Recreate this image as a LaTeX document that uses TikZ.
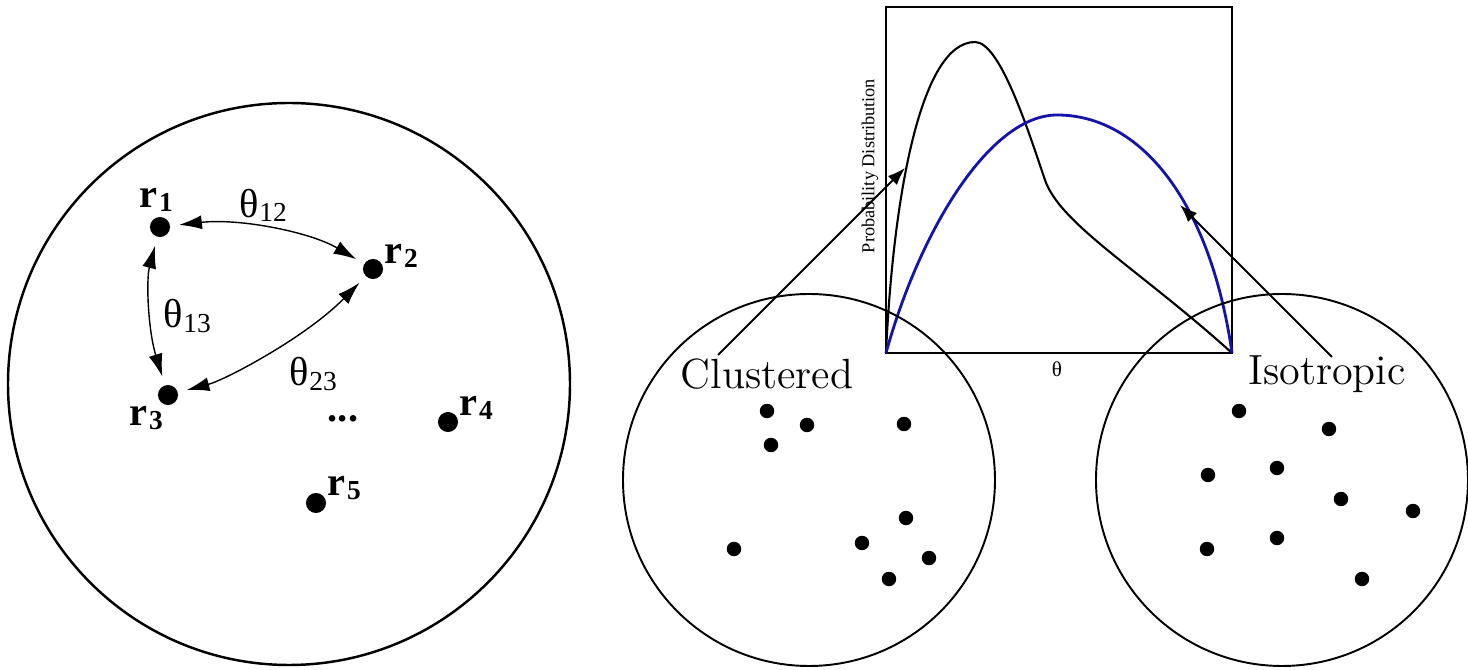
\documentclass[tikz,border=0pt]{standalone}
\usepackage{fontspec}
\newfontfamily\tms{Liberation Serif}
\usetikzlibrary{arrows.meta}
\definecolor{pblue}{RGB}{20,20,170}
\newcommand{\myr}[1]{r\kern0.6pt\raisebox{-1.3pt}{\fontsize{7.8}{7.8}\selectfont #1}}
\newcommand{\myth}[1]{θ\kern0.3pt\raisebox{-1.2pt}{\fontsize{7.8}{7.8}\selectfont #1}}
\begin{document}
\begin{tikzpicture}[x=0.01cm,y=-0.01cm,
  bigdot/.style={circle,fill=black,inner sep=0pt,minimum size=5.7pt,outer sep=2.6pt},
  smalldot/.style={circle,fill=black,inner sep=0pt,minimum size=4.1pt},
  rlab/.style={font=\tms\fontsize{11.5}{11.5}\selectfont\bfseries,inner sep=0pt},
  thlab/.style={font=\tms\fontsize{11.5}{11.5}\selectfont,inner sep=0pt},
  dbl/.style={{Latex[length=6.5pt,width=4pt]}-{Latex[length=6.5pt,width=4pt]},line width=0.4pt},
  arr/.style={-{Latex[length=5pt,width=3.6pt]},line width=0.55pt},
  cname/.style={font=\fontsize{12}{12}\selectfont,inner sep=0pt}]
\useasboundingbox (0,0) rectangle (1468,670);
% left big circle
\draw[line width=0.7pt] (289,384) circle[radius=281];
\node[bigdot] (r1) at (160,227) {};
\node[bigdot] (r2) at (373,269) {};
\node[bigdot] (r3) at (168,395) {};
\node[bigdot] (r4) at (448,422) {};
\node[bigdot] (r5) at (316,503) {};
\node[rlab] (l1) at (156,200) {\myr{1}};
\node[rlab] (l2) at (401,256) {\myr{2}};
\node[rlab] (l3) at (146,418) {\myr{3}};
\node[rlab] (l4) at (476,408) {\myr{4}};
\node[rlab] (l5) at (344,488) {\myr{5}};
\node[thlab] (t12) at (263,205) {\myth{12}};
\node[thlab] (t13) at (187,316) {\myth{13}};
\node[thlab] (t23) at (313,374) {\myth{23}};
\node[rlab,anchor=base,text height=2pt,text depth=0pt] (dots) at (343,422) {...};
\draw[dbl] (r1) .. controls (240,218) and (310,232) .. (r2);
\draw[dbl] (r1) .. controls (146,280) and (148,330) .. (r3);
\draw[dbl] (r3) .. controls (225,380) and (305,338) .. (r2);
% plot box
\draw[line width=0.3pt] (886,7) rectangle (1232,353);
\node[font=\tms\fontsize{5.2}{5.2}\selectfont,rotate=90,inner sep=0pt] (ylab) at (870,166) {Probability Distribution};
\node[font=\tms\fontsize{6}{6}\selectfont,inner sep=0pt] (xlab) at (1057,369) {θ};
\draw[line width=0.6pt] (886,353) .. controls (893,200) and (920,42) .. (975,42)
  .. controls (1000,42) and (1028,130) .. (1045,180)
  .. controls (1060,224) and (1140,270) .. (1232,353);
\draw[pblue,line width=0.8pt] (886,353) .. controls (920,230) and (990,115) .. (1057,115)
  .. controls (1140,115) and (1210,200) .. (1232,353);
% small circles
\draw[line width=0.55pt] (809,480) circle[radius=186];
\draw[line width=0.55pt] (1282,480) circle[radius=186];
\node[cname] (clu) at (767,374) {Clustered};
\node[cname] (iso) at (1327,374) {Isotropic};
\coordinate (cs) at (718,355);
\coordinate (ce) at (905,168);
\coordinate (is) at (1332,357);
\coordinate (ie) at (1180,205);
\draw[arr] (cs) -- (ce);
\draw[arr] (is) -- (ie);
% clustered dots
\foreach \p [count=\i] in {(767,411),(807,425),(771,445),(904,424),(906,518),(862,543),(734,549),(929,558),(889,579)}
  \node[smalldot] (c\i) at \p {};
% isotropic dots
\foreach \p [count=\i] in {(1239,411),(1329,429),(1277,468),(1208,475),(1341,499),(1413,511),(1277,538),(1207,549),(1362,579)}
  \node[smalldot] (s\i) at \p {};
\end{tikzpicture}
\end{document}
